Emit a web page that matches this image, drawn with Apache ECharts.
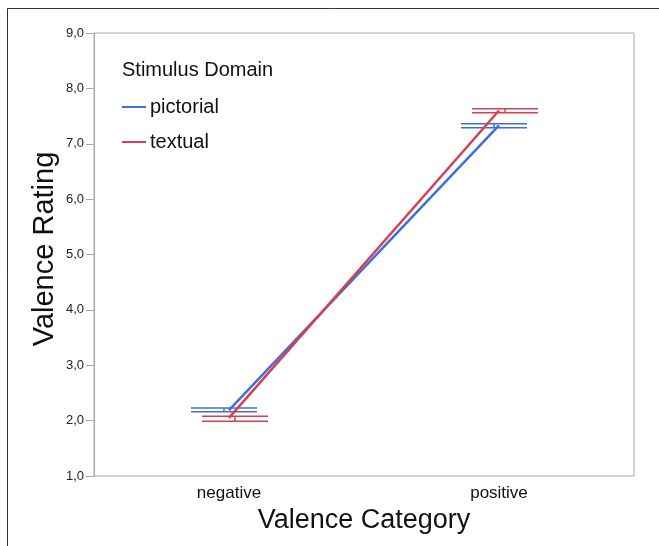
<!DOCTYPE html>
<html><head><meta charset="utf-8">
<script src="https://cdn.jsdelivr.net/npm/echarts@6/dist/echarts.min.js"></script>
<style>html,body{margin:0;padding:0;background:#fff}#c{width:659px;height:546px}</style>
</head><body><div id="c"></div>
<script>
const categories = ['negative', 'positive'];
const seriesNames = ['pictorial', 'textual'];
const pictorialMean = [2.19, 7.33];
const pictorialLow = [2.16, 7.29];
const pictorialHigh = [2.23, 7.36];
const textualMean = [2.05, 7.60];
const textualLow = [1.99, 7.56];
const textualHigh = [2.08, 7.63];
const yTicks = [1, 2, 3, 4, 5, 6, 7, 8, 9];

const BLUE = '#3f6fdd', RED = '#d6404f';
const FONT = '"Liberation Sans", Arial, sans-serif';
const chart = echarts.init(document.getElementById('c'));

function errRender(offset, color) {
  return function (params, api) {
    const c = api.value(0);
    const lo = api.coord([c, api.value(1)]);
    const hi = api.coord([c, api.value(2)]);
    const x = lo[0] + offset;
    const hw = 33;
    const st = { stroke: color, lineWidth: 1.5 };
    return { type: 'group', children: [
      { type: 'line', shape: { x1: x - hw, y1: lo[1], x2: x + hw, y2: lo[1] }, style: st },
      { type: 'line', shape: { x1: x - hw, y1: hi[1], x2: x + hw, y2: hi[1] }, style: st },
      { type: 'line', shape: { x1: x, y1: lo[1], x2: x, y2: hi[1] }, style: st }
    ]};
  };
}

chart.setOption({
  animation: false,
  graphic: [
    { type: 'rect', shape: { x: 7.5, y: 8.5, width: 700, height: 600 }, style: { fill: 'none', stroke: '#333', lineWidth: 1 } },
    { type: 'text', left: 122, top: 60, style: { text: 'Stimulus Domain', font: '20px ' + FONT, fill: '#111' } },
    { type: 'text', x: 45, y: 249, rotation: Math.PI / 2,
      style: { text: 'Valence Rating', font: '29px ' + FONT, fill: '#111', textAlign: 'center', textVerticalAlign: 'middle' } }
  ],
  grid: { left: 94, right: 25, top: 33, bottom: 70, show: true, borderColor: '#aaaaaa', borderWidth: 1 },
  legend: {
    data: seriesNames, orient: 'vertical', left: 117, top: 92, icon: 'rect',
    itemWidth: 24, itemHeight: 2, itemGap: 15,
    textStyle: { fontSize: 20, color: '#111', fontFamily: FONT, padding: [0, 0, 0, -1] }
  },
  xAxis: {
    type: 'category', data: categories, boundaryGap: true,
    name: 'Valence Category', nameLocation: 'middle', nameGap: 28,
    nameTextStyle: { fontSize: 27, color: '#111', fontFamily: FONT },
    axisLine: { show: false }, axisTick: { show: false },
    axisLabel: { fontSize: 17, color: '#111', margin: 9, fontFamily: FONT }
  },
  yAxis: {
    type: 'value', min: 1, max: 9, interval: 1,
    axisLine: { show: true, lineStyle: { color: '#aaaaaa' } },
    axisTick: { show: true, length: 8, lineStyle: { color: '#aaaaaa' } },
    splitLine: { show: false },
    axisLabel: { fontSize: 13, color: '#222', margin: 10, fontFamily: FONT,
      formatter: v => yTicks.includes(v) ? v.toFixed(1).replace('.', ',') : '' }
  },
  series: [
    { name: 'pictorial', type: 'line', data: pictorialMean, symbol: 'none', lineStyle: { color: BLUE, width: 2.5 }, itemStyle: { color: BLUE }, z: 3 },
    { name: 'textual', type: 'line', data: textualMean, symbol: 'none', lineStyle: { color: RED, width: 2.5 }, itemStyle: { color: RED }, z: 4 },
    { name: 'pictorial-err', type: 'custom', renderItem: errRender(-5, BLUE), data: categories.map((c, i) => [i, pictorialLow[i], pictorialHigh[i]]), z: 2 },
    { name: 'textual-err', type: 'custom', renderItem: errRender(6, RED), data: categories.map((c, i) => [i, textualLow[i], textualHigh[i]]), z: 2 }
  ]
});
</script></body></html>
